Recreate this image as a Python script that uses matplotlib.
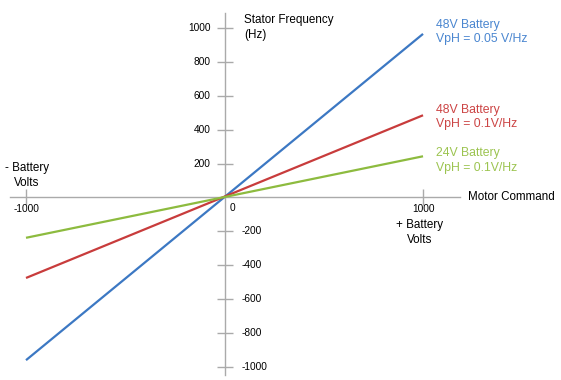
import matplotlib
matplotlib.use("Agg")
import matplotlib.pyplot as plt
import numpy as np

plt.rcParams['font.family'] = ['Liberation Sans', 'DejaVu Sans']

# motor command range and stator frequency at the ends of each line
command = np.array([-1000, 1000])
freq_blue = np.array([-960, 965])
freq_red = np.array([-475, 485])
freq_green = np.array([-238, 243])

series_labels = ["48V Battery\nVpH = 0.05 V/Hz", "48V Battery\nVpH = 0.1V/Hz", "24V Battery\nVpH = 0.1V/Hz"]
line_colors = ["#3c78c3", "#c83c3c", "#8dbb3f"]
text_colors = ["#4a86d0", "#cc4444", "#9cc450"]

x_ticks = [-1000, 1000]
y_ticks = [1000, 800, 600, 400, 200, -200, -400, -600, -800, -1000]

axis_gray = "#aaaaaa"

fig = plt.figure(figsize=(5.61, 3.80), dpi=100)
ax = fig.add_axes([0, 0, 1, 1])
ax.set_xlim(-1131, 1695)
ax.set_ylim(-1077, 1165)

for y, c in zip([freq_blue, freq_red, freq_green], line_colors):
    ax.plot(command, y, color=c, lw=1.6, solid_capstyle='butt', zorder=3)

# axes through the origin
for s in ['top', 'right']:
    ax.spines[s].set_visible(False)
ax.spines['left'].set_position(('data', 0))
ax.spines['bottom'].set_position(('data', 0))
ax.spines['left'].set_bounds(-1047, 1088)
ax.spines['bottom'].set_bounds(-1080, 1186)
for s in ['left', 'bottom']:
    ax.spines[s].set_color(axis_gray)
    ax.spines[s].set_linewidth(1.0)
ax.set_xticks(x_ticks)
ax.set_yticks(y_ticks)
ax.tick_params(direction='inout', length=11, width=1.0, color=axis_gray,
               labelbottom=False, labelleft=False)

fs_tick = 7.3
for t in y_ticks:
    if t > 0:
        ax.text(-70, t, str(t), ha='right', va='center', fontsize=fs_tick)
    else:
        ax.text(85, t, str(t), ha='left', va='center', fontsize=fs_tick)
ax.text(25, -60, "0", ha='left', va='center', fontsize=fs_tick)
for t in x_ticks:
    ax.text(t, -70, str(t), ha='center', va='center', fontsize=fs_tick)

fs_lab = 8.4
ax.text(100, 1003, "Stator Frequency\n(Hz)", ha='left', va='center', fontsize=fs_lab, linespacing=1.35)
ax.text(1225, 0, "Motor Command", ha='left', va='center', fontsize=fs_lab)
ax.text(-995, 130, "- Battery\nVolts", ha='center', va='center', multialignment='center',
        fontsize=fs_lab, linespacing=1.35)
ax.text(985, -206, "+ Battery\nVolts", ha='center', va='center', multialignment='center',
        fontsize=fs_lab, linespacing=1.35)

label_y = [976, 475, 218]
for lab, c, y in zip(series_labels, text_colors, label_y):
    ax.text(1065, y, lab, ha='left', va='center', fontsize=8.8, color=c, linespacing=1.3)

fig.savefig("out.png", dpi=100)
